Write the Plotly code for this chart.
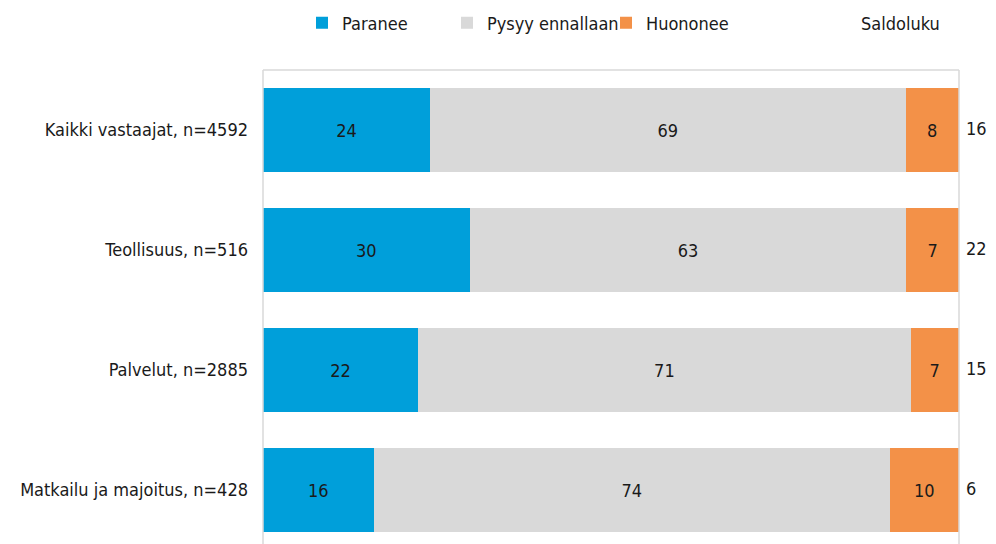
import plotly.graph_objects as go

categories = ["Kaikki vastaajat, n=4592", "Teollisuus, n=516", "Palvelut, n=2885", "Matkailu ja majoitus, n=428"]
# bar lengths (shares of 100)
paranee = [24.0, 29.7, 22.3, 15.9]
pysyy = [68.4, 62.8, 70.8, 74.2]
huononee = [7.6, 7.5, 6.9, 9.9]
# labels printed in the chart
paranee_lbl = ["24", "30", "22", "16"]
pysyy_lbl = ["69", "63", "71", "74"]
huononee_lbl = ["8", "7", "7", "10"]
saldoluku = ["16", "22", "15", "6"]

FONT = "DejaVu Sans Condensed, Liberation Sans Narrow, sans-serif"
OFF = 8  # page body margin offset
W, H = 996 - OFF, 544 - OFF
L, R, T, B = 263 - OFF, 996 - 959, 70 - OFF, 0
PW = W - L - R
PH = H - T - B

def px2x(vp):
    return (vp - OFF - L) / PW

def py2y(vp):
    return 1 + (T - (vp - OFF)) / PH

fig = go.Figure()
colors = ["#009fda", "#d9d9d9", "#f39148"]
series = [("Paranee", paranee, paranee_lbl), ("Pysyy ennallaan", pysyy, pysyy_lbl), ("Huononee", huononee, huononee_lbl)]
legends = ["legend", "legend2", "legend3"]
for (name, vals, lbls), c, lg in zip(series, colors, legends):
    fig.add_trace(go.Bar(
        y=categories, x=vals, name=name, orientation="h",
        marker=dict(color=c, line=dict(width=0)),
        text=lbls, textposition="inside", insidetextanchor="middle",
        textfont=dict(family=FONT, size=18, color="#1a1a1a"),
        width=0.70, legend=lg, hoverinfo="skip", cliponaxis=False,
    ))

fig.add_trace(go.Scatter(
    y=categories, x=[100] * len(categories), name="Saldoluku",
    mode="markers+text", text=saldoluku, textposition="middle right",
    marker=dict(size=10, color="rgba(0,0,0,0)"),
    textfont=dict(family=FONT, size=18, color="#1a1a1a"),
    cliponaxis=False, legend="legend4", hoverinfo="skip",
))

leg_common = dict(orientation="h", yanchor="middle", xanchor="left",
                  font=dict(family=FONT, size=18, color="#1a1a1a"),
                  bgcolor="rgba(0,0,0,0)", itemclick=False)
fig.update_layout(
    width=W, height=H,
    margin=dict(l=L, r=R, t=T, b=B, autoexpand=False),
    barmode="stack",
    showlegend=True,
    plot_bgcolor="white", paper_bgcolor="white",
    font=dict(family=FONT, size=18, color="#1a1a1a"),
    xaxis=dict(range=[0, 100.05], showgrid=False, zeroline=False, showticklabels=False, fixedrange=True),
    yaxis=dict(range=[3.45, -0.5], showgrid=False, zeroline=False,
               ticks="", ticklabelstandoff=14,
               tickfont=dict(family=FONT, size=18, color="#1a1a1a")),
    legend=dict(x=px2x(343 - 41), y=py2y(23), **leg_common),
    legend2=dict(x=px2x(488 - 41), y=py2y(23), **leg_common),
    legend3=dict(x=px2x(647 - 41), y=py2y(23), **leg_common),
    legend4=dict(x=px2x(862 - 41), y=py2y(23), **leg_common),
    shapes=[
        dict(type="line", xref="paper", yref="paper", x0=0, x1=1, y0=1, y1=1, line=dict(color="#d9d9d9", width=1.5)),
        dict(type="line", xref="paper", yref="paper", x0=0, x1=0, y0=0, y1=1, line=dict(color="#d9d9d9", width=1.5)),
        dict(type="line", xref="paper", yref="paper", x0=1, x1=1, y0=0, y1=1, line=dict(color="#d9d9d9", width=1.5)),
    ],
)
fig.write_html("out.html")
